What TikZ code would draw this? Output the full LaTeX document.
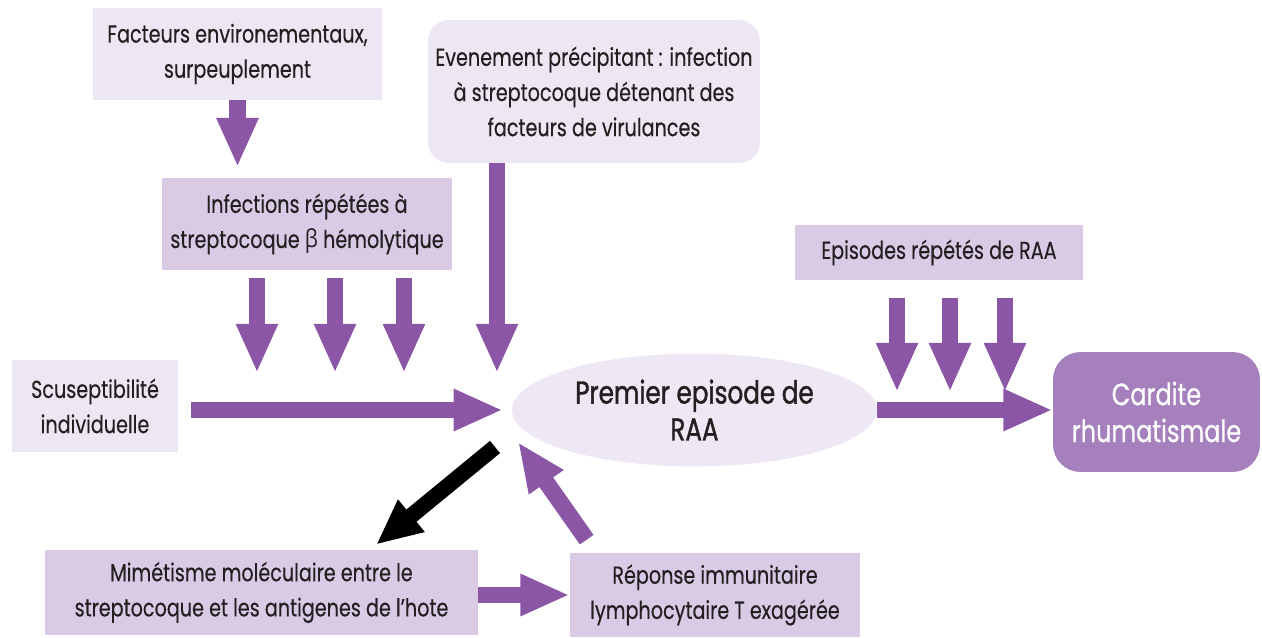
\documentclass[tikz,border=0pt]{standalone}
\usepackage{fontspec}
\setmainfont{Poppins}[FakeStretch=0.78,FakeBold=0.3]
\newfontfamily\greekfont{Open Sans}[FakeStretch=0.85]
\usetikzlibrary{arrows.meta,shapes.geometric,calc}
\definecolor{lightlav}{HTML}{EDE6F3}
\definecolor{midlav}{HTML}{D9CBE5}
\definecolor{ovalfill}{HTML}{EEE8F5}
\definecolor{cardfill}{HTML}{A680BD}
\definecolor{arrowc}{HTML}{8A56A5}
\definecolor{ink}{HTML}{231F20}
\tikzset{
  box/.style={rectangle, inner sep=0pt, align=center, text=ink,
    font=\fontsize{14}{20}\selectfont},
  lightbox/.style={box, fill=lightlav},
  midbox/.style={box, fill=midlav},
  fat/.style={draw=arrowc, line width=9.5pt, -{Triangle[width=22pt,length=28pt]}},
  blk/.style={draw=black, line width=9pt, -{Triangle[width=22pt,length=26pt]}},
}
\begin{document}
\begin{tikzpicture}[x=0.02cm,y=-0.02cm]
\useasboundingbox (0,0) rectangle (1262,637);

% boxes
\node[lightbox, minimum width=5.78cm, minimum height=1.84cm] (env) at (237.5,54)
  {Facteurs environementaux,\\surpeuplement};
\node[midbox, minimum width=5.80cm, minimum height=1.84cm] (inf) at (307,224)
  {Infections répétées à\\streptocoque {\greekfont β} hémolytique};
\node[lightbox, rounded corners=0.42cm, minimum width=6.64cm, minimum height=2.86cm] (evt) at (594,91.5)
  {Evenement précipitant : infection\\à streptocoque détenant des\\facteurs de virulances};
\node[lightbox, minimum width=3.32cm, minimum height=1.84cm] (sus) at (95,406)
  {Scuseptibilité\\individuelle};
\node[ellipse, fill=ovalfill, inner sep=0pt, minimum width=7.30cm, minimum height=2.26cm,
  align=center, text=ink, font=\fontsize{18}{21}\selectfont\addfontfeature{FakeBold=1.2}] (raa) at (694.5,410)
  {Premier episode de\\RAA};
\node[midbox, minimum width=5.76cm, minimum height=1.10cm] (epi) at (939,252.5)
  {Episodes répétés de RAA};
\node[rectangle, rounded corners=0.55cm, fill=cardfill, inner sep=0pt, align=center,
  text=white, font=\fontsize{17.5}{21}\selectfont\addfontfeature{FakeBold=0.6},
  minimum width=4.14cm, minimum height=2.40cm] (card) at (1156.5,412)
  {Cardite\\rhumatismale};
\node[midbox, minimum width=8.66cm, minimum height=1.70cm] (mim) at (261.5,592.5)
  {Mimétisme moléculaire entre le\\streptocoque et les antigenes de l’hote};
\node[midbox, minimum width=5.80cm, minimum height=1.68cm] (rep) at (715,595)
  {Réponse immunitaire\\lymphocytaire T exagérée};

% arrow tips that stop short of the oval
\coordinate (t1) at (257,373);
\coordinate (t2) at (335,373);
\coordinate (t3) at (404,373);
\coordinate (t4) at (497,373);
\coordinate (e1) at (897,392);
\coordinate (e2) at (950,392);
\coordinate (e3) at (1005,392);
\coordinate (b0) at (495,447);
\coordinate (bk) at (370,542);
\coordinate (r1) at (518,442);

% connectors
\draw[fat, shorten >=6pt] (env.south) -- (env.south |- inf.north);
\foreach \t in {t1,t2,t3}
  \draw[fat, shorten <=4.5pt] (inf.south -| \t) -- (\t);
\draw[fat] (evt.south -| t4) -- (t4);
\draw[fat, shorten <=7pt, shorten >=5pt] (sus.east |- raa.west) -- (raa.west);
\foreach \e in {e1,e2,e3}
  \draw[fat, shorten <=10pt] (epi.south -| \e) -- (\e);
\draw[fat] (raa.east) -- (raa.east -| card.west);
\draw[blk, shorten >=4.5pt] (b0) -- (mim.north -| bk);
\draw[fat] (mim.east |- rep.west) -- (rep.west);
\draw[fat] ([shift={(17,-13)}]rep.north west) -- (r1);
\end{tikzpicture}
\end{document}
